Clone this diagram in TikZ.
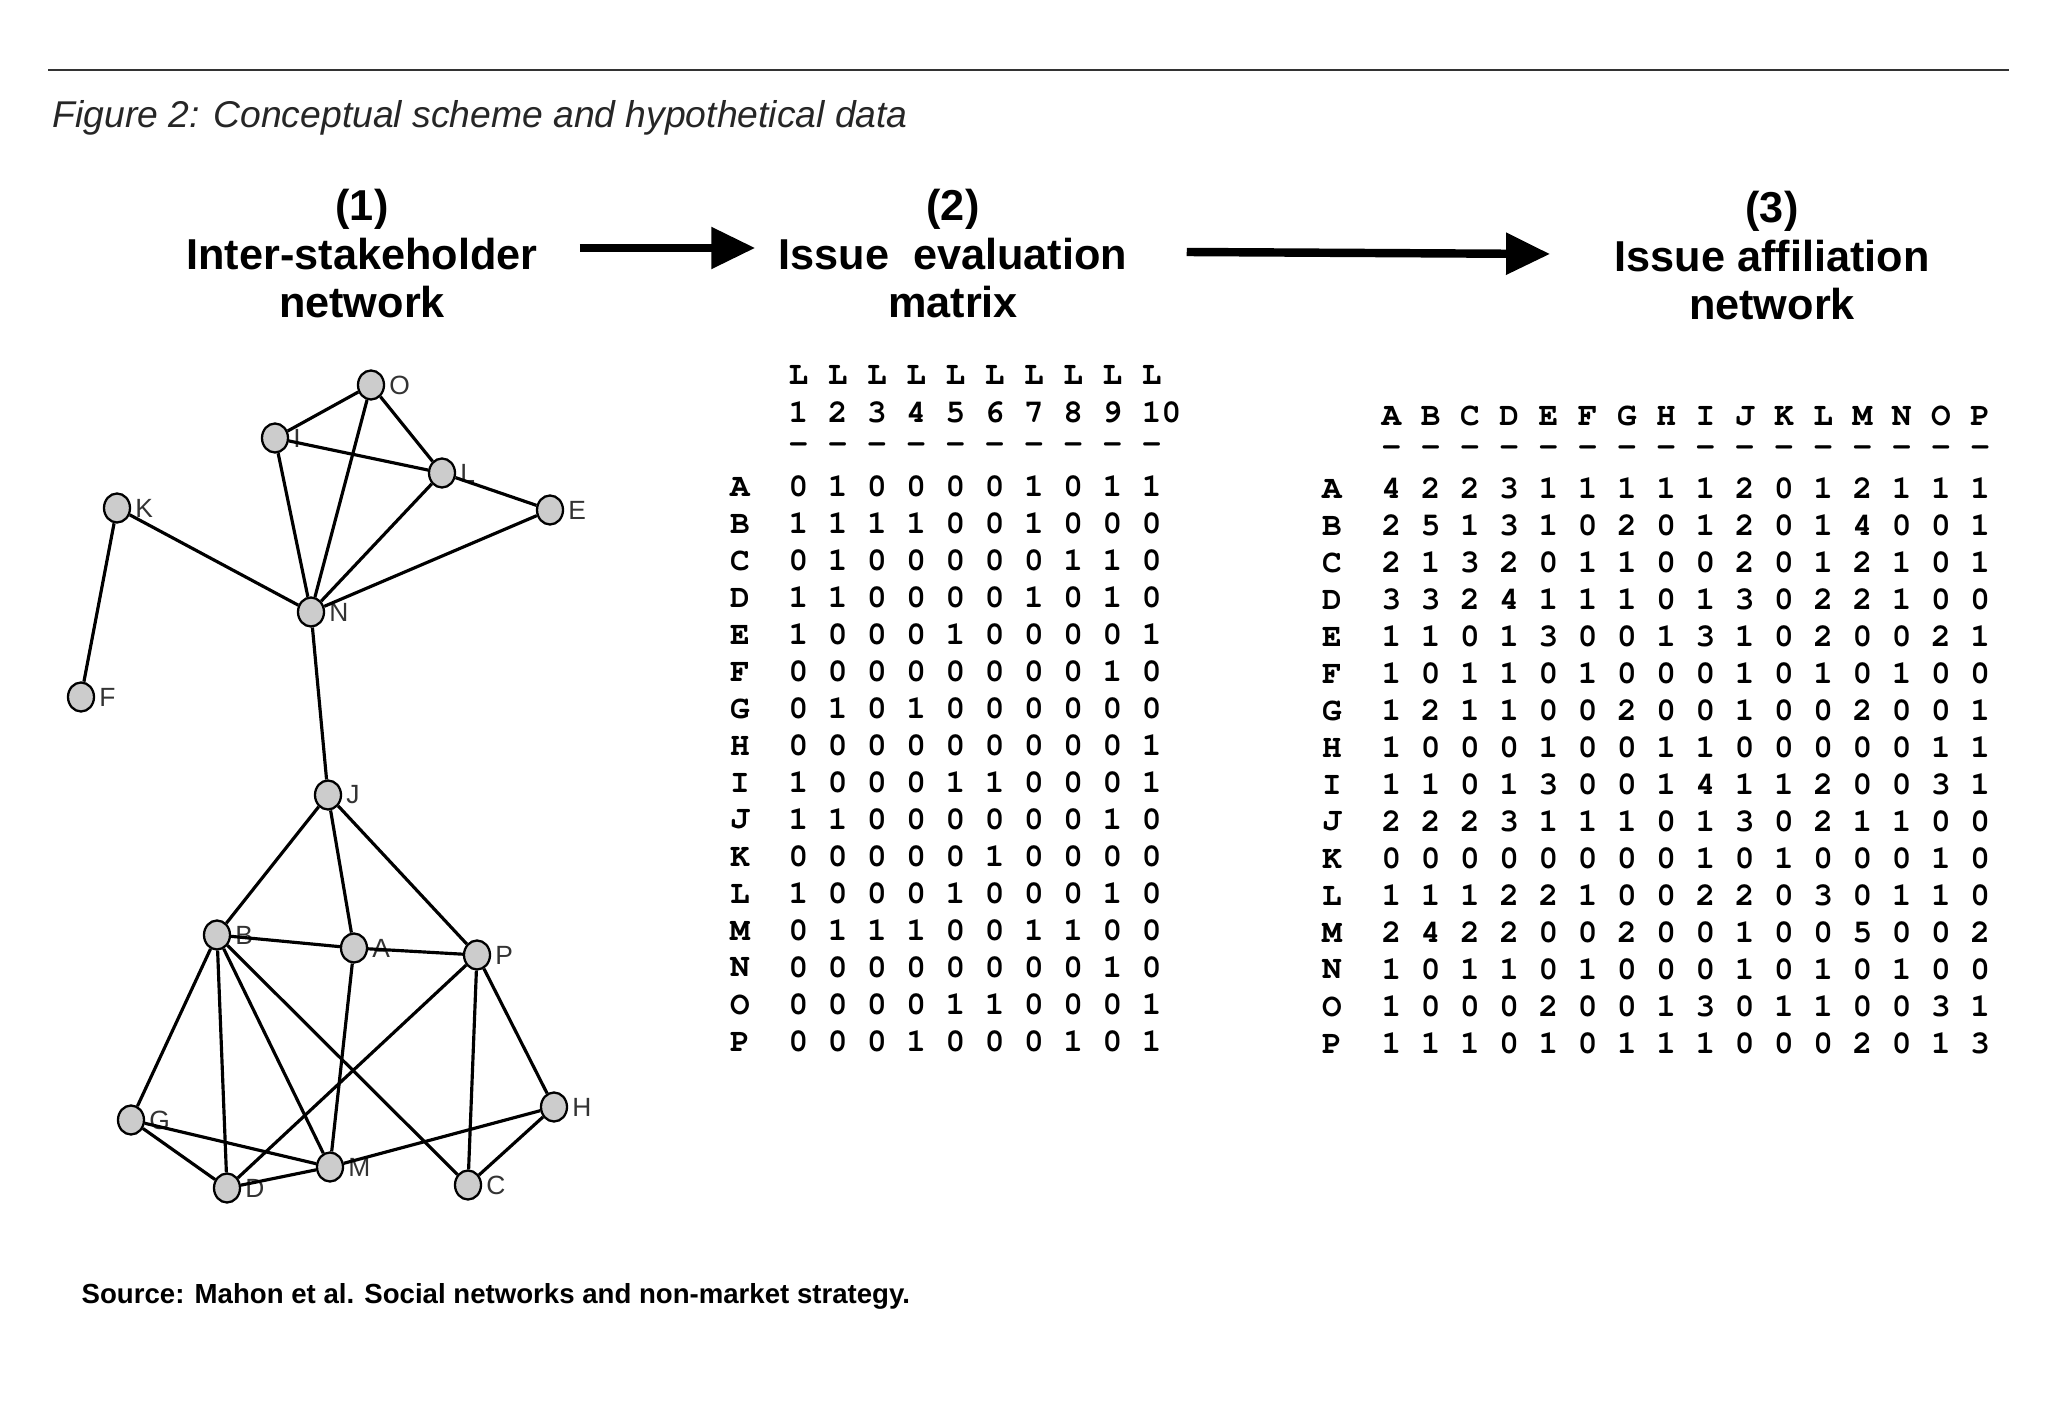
\documentclass[tikz,border=0pt]{standalone}
\usepackage[T1]{fontenc}
\usepackage{fontspec}
\setmainfont{Liberation Sans}
\usetikzlibrary{arrows.meta,positioning,shapes.geometric}
\newcommand{\courier}{\fontencoding{T1}\fontfamily{pcr}\fontseries{b}\fontsize{9.3}{10}\selectfont}

\tikzset{
  actor/.style={ellipse,draw,line width=0.65pt,fill=gray!40,minimum width=0.26cm,
                minimum height=0.29cm,inner sep=0pt},
  tie/.style={line width=0.9pt},
  lab/.style={font=\fontsize{7.5}{8}\selectfont,text=black!80,inner sep=1pt},
  heading/.style={align=center,font=\bfseries\fontsize{12.3}{13.8}\selectfont},
  flow/.style={line width=2.4pt,-{Triangle[length=4.4mm,width=4mm]}},
  mono/.style={font=\courier,inner sep=0pt}
}

\begin{document}
\begin{tikzpicture}[x=0.01cm,y={(0cm,-0.01cm)}]
  \fill[white] (0,0) rectangle (2048,1419);
  \useasboundingbox (0,0) rectangle (2048,1419);

  % rule and caption
  \draw[line width=0.75pt,black!80] (48,70) -- (2009,70);
  \node[anchor=base west,inner sep=0pt,text=black!85,
        font=\itshape\fontsize{10.6}{12}\selectfont] (caption) at (52,128)
        {Figure 2: Conceptual scheme and hypothetical data};

  % headings
  \node[heading] (inter) at (362,254) {(1)\\Inter-stakeholder\\network};
  \node[heading] (evalh) at (953,254) {(2)\\Issue~~evaluation\\matrix};
  \node[heading] (affh)  at (1772,256) {(3)\\Issue affiliation\\network};
  \draw[flow] ([xshift=3mm,yshift=0.6mm]inter.east) -- ([xshift=-1.1mm,yshift=0.6mm]evalh.west);
  \draw[flow] ([xshift=4.7mm,yshift=0.2mm]evalh.east) -- ([xshift=-5.2mm,yshift=0.2mm]affh.west);

  % (1) network
  \node[actor,label={[lab]right:O}] (O) at (371,385) {};
  \node[actor,label={[lab]right:I}] (I) at (275,438) {};
  \node[actor,label={[lab]right:L}] (L) at (442,473) {};
  \node[actor,label={[lab]right:E}] (E) at (550,510) {};
  \node[actor,label={[lab]right:K}] (K) at (117,508) {};
  \node[actor,label={[lab]right:N}] (N) at (311,612) {};
  \node[actor,label={[lab]right:F}] (F) at (81,697) {};
  \node[actor,label={[lab]right:J}] (J) at (328,795) {};
  \node[actor,label={[lab]right:B}] (B) at (217,935) {};
  \node[actor,label={[lab]right:A}] (A) at (354,948) {};
  \node[actor,label={[lab]right:P}] (P) at (477,955) {};
  \node[actor,label={[lab]right:G}] (G) at (131,1120) {};
  \node[actor,label={[lab]right:H}] (H) at (554,1107) {};
  \node[actor,label={[lab]right:M}] (M) at (330,1167) {};
  \node[actor,label={[lab]right:D}] (D) at (227,1188) {};
  \node[actor,label={[lab]right:C}] (C) at (468,1185) {};
  \foreach \a/\b in {O/I,O/L,O/N,I/L,I/N,L/N,L/E,E/N,K/N,K/F,N/J,
                     J/B,J/A,J/P,B/A,A/P,B/G,B/D,B/M,B/C,A/M,P/D,P/C,P/H,
                     G/M,G/D,D/M,M/H,H/C}{
    \draw[tie] (\a)--(\b);
  }

  % (2) issue evaluation matrix
  \node[mono,anchor=west] (evalL)    at (788,375) {L L L L L L L L L L};
  \node[mono,anchor=west] (evalnum)  at (788,413) {1 2 3 4 5 6 7 8 9 10};
  \node[mono,anchor=west] (evaldash) at (788,448) {- - - - - - - - - -};
  \foreach \r/\vals [count=\i from 0] in {A/0 1 0 0 0 0 1 0 1 1,B/1 1 1 1 0 0 1 0 0 0,
      C/0 1 0 0 0 0 0 1 1 0,D/1 1 0 0 0 0 1 0 1 0,E/1 0 0 0 1 0 0 0 0 1,
      F/0 0 0 0 0 0 0 0 1 0,G/0 1 0 1 0 0 0 0 0 0,H/0 0 0 0 0 0 0 0 0 1,
      I/1 0 0 0 1 1 0 0 0 1,J/1 1 0 0 0 0 0 0 1 0,K/0 0 0 0 0 1 0 0 0 0,
      L/1 0 0 0 1 0 0 0 1 0,M/0 1 1 1 0 0 1 1 0 0,N/0 0 0 0 0 0 0 0 1 0,
      O/0 0 0 0 1 1 0 0 0 1,P/0 0 0 1 0 0 0 1 0 1}{
    \node[mono] (evallab\r) at (740,{487+37*\i}) {\r};
    \node[mono,anchor=west] (evalrow\r) at (788,{487+37*\i}) {\vals};
  }

  % (3) issue affiliation network
  \node[mono,anchor=west] (affhead) at (1381,416) {A B C D E F G H I J K L M N O P};
  \node[mono,anchor=west] (affdash) at (1381,451) {- - - - - - - - - - - - - - - -};
  \foreach \r/\vals [count=\i from 0] in {A/4 2 2 3 1 1 1 1 1 2 0 1 2 1 1 1,
      B/2 5 1 3 1 0 2 0 1 2 0 1 4 0 0 1,C/2 1 3 2 0 1 1 0 0 2 0 1 2 1 0 1,
      D/3 3 2 4 1 1 1 0 1 3 0 2 2 1 0 0,E/1 1 0 1 3 0 0 1 3 1 0 2 0 0 2 1,
      F/1 0 1 1 0 1 0 0 0 1 0 1 0 1 0 0,G/1 2 1 1 0 0 2 0 0 1 0 0 2 0 0 1,
      H/1 0 0 0 1 0 0 1 1 0 0 0 0 0 1 1,I/1 1 0 1 3 0 0 1 4 1 1 2 0 0 3 1,
      J/2 2 2 3 1 1 1 0 1 3 0 2 1 1 0 0,K/0 0 0 0 0 0 0 0 1 0 1 0 0 0 1 0,
      L/1 1 1 2 2 1 0 0 2 2 0 3 0 1 1 0,M/2 4 2 2 0 0 2 0 0 1 0 0 5 0 0 2,
      N/1 0 1 1 0 1 0 0 0 1 0 1 0 1 0 0,O/1 0 0 0 2 0 0 1 3 0 1 1 0 0 3 1,
      P/1 1 1 0 1 0 1 1 1 0 0 0 2 0 1 3}{
    \node[mono] (afflab\r) at (1332,{489+37*\i}) {\r};
    \node[mono,anchor=west] (affrow\r) at (1381,{489+37*\i}) {\vals};
  }

  % source
  \node[anchor=base west,inner sep=0pt,font=\bfseries\fontsize{7.85}{9}\selectfont]
    (source) at (81,1303) {Source: Mahon et al. Social networks and non-market strategy.};
\end{tikzpicture}
\end{document}
